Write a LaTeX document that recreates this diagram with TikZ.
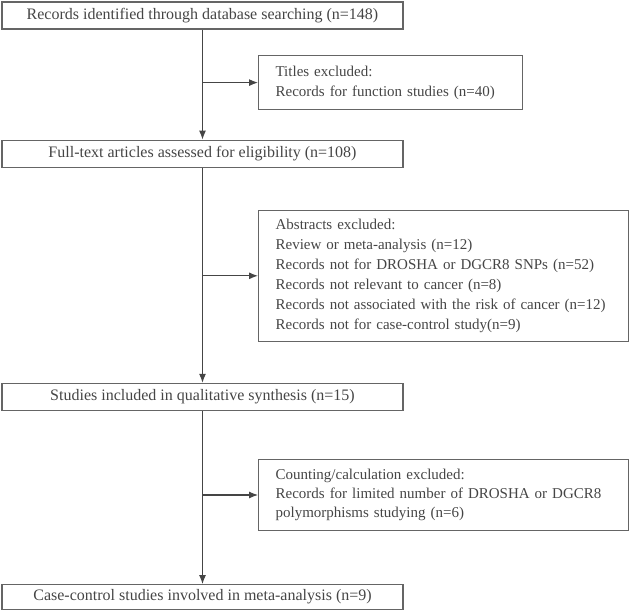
\documentclass[tikz,border=0pt]{standalone}
\usepackage{fontspec}
\setmainfont{Liberation Serif}
\usetikzlibrary{positioning,arrows.meta}
\definecolor{linegray}{HTML}{656565}
\definecolor{textgray}{HTML}{454545}
\begin{document}
\begin{tikzpicture}[every node/.style={font=\fontsize{15bp}{20bp}\selectfont, text=textgray}]
    \tikzstyle{mainbox} = [rectangle, draw=linegray, line width=1.2bp, minimum width=401bp, minimum height=27bp, inner sep=0pt, text centered, font=\fontsize{16bp}{20bp}\selectfont]
    \tikzstyle{sidebox} = [rectangle, draw=linegray, line width=1.2bp, inner xsep=17bp, inner ysep=0pt, align=left]
    \tikzstyle{arrow} = [-{Latex[length=9bp,width=7bp]}, draw=textgray, line width=1.1bp]
    \useasboundingbox (0,0) rectangle (630bp,-612bp);
    \node (records) [mainbox] at (202.5bp,-15.5bp) {Records identified through database searching (n=148)};
    \node (fulltext) [mainbox, below=110bp of records] {Full-text articles assessed for eligibility (n=108)};
    \node (studies) [mainbox, below=215bp of fulltext] {Studies included in qualitative synthesis (n=15)};
    \node (metaanalysis) [mainbox, below=173bp of studies, minimum height=25bp] {Case-control studies involved in meta-analysis (n=9)};

    % split points on the spine
    \coordinate (titlesplit) at ([yshift=-53bp]records.south);
    \coordinate (abstractsplit) at ([yshift=-108bp]fulltext.south);
    \coordinate (countingsplit) at ([yshift=-84bp]studies.south);

    \node (titles) [sidebox, right=55.5bp of titlesplit, minimum width=264bp, minimum height=54bp, text width=230bp] {Titles excluded:\\Records for function studies (n=40)};
    \node (abstracts) [sidebox, right=55.5bp of abstractsplit, minimum width=370bp, minimum height=131bp, text width=336bp] {Abstracts excluded:\\Review or meta-analysis (n=12)\\Records not for DROSHA or DGCR8 SNPs (n=52)\\Records not relevant to cancer (n=8)\\Records not associated with the risk of cancer (n=12)\\Records not for case-control study(n=9)};
    \node (counting) [sidebox, right=55.5bp of countingsplit, minimum width=370bp, minimum height=71bp, text width=336bp, font=\fontsize{15bp}{19bp}\selectfont] {Counting/calculation excluded:\\Records for limited number of DROSHA or DGCR8\\polymorphisms studying (n=6)};

    \draw [arrow] (records) -- (fulltext);
    \draw [arrow] (fulltext) -- (studies);
    \draw [arrow] (studies) -- (metaanalysis);
    \draw [arrow] (titlesplit) -- (titles);
    \draw [arrow] (abstractsplit) -- (abstracts);
    \draw [arrow] (countingsplit) -- (counting);

\end{tikzpicture}
\end{document}
